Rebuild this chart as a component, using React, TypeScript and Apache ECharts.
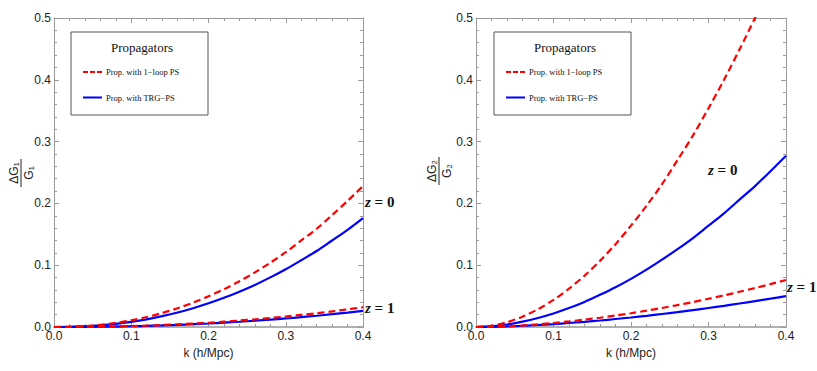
import React, { useEffect, useRef } from "react";
import * as echarts from "echarts";

const K = [0, 0.02, 0.04, 0.06, 0.08, 0.1, 0.12, 0.14, 0.16, 0.18, 0.2, 0.22, 0.24, 0.26, 0.28, 0.3, 0.32, 0.34, 0.36, 0.38, 0.4];

// Left panel: ΔG1/G1
const G1_Z0_LOOP = [0, 0.0003, 0.0014, 0.0035, 0.0066, 0.0108, 0.0161, 0.0226, 0.0304, 0.0394, 0.0496, 0.0611, 0.074, 0.0883, 0.104, 0.121, 0.14, 0.159, 0.181, 0.204, 0.228];
const G1_Z0_TRG = [0, 0.0002, 0.0011, 0.0027, 0.0051, 0.0083, 0.0124, 0.0175, 0.0234, 0.0304, 0.0383, 0.0472, 0.0572, 0.0681, 0.0803, 0.0935, 0.108, 0.123, 0.14, 0.157, 0.176];
const G1_Z1_LOOP = [0, 0.00005, 0.0002, 0.0005, 0.0009, 0.0015, 0.0023, 0.0032, 0.0043, 0.0055, 0.0069, 0.0086, 0.0104, 0.0124, 0.0146, 0.017, 0.0196, 0.0223, 0.0253, 0.0286, 0.032];
const G1_Z1_TRG = [0, 0.00003, 0.00016, 0.0004, 0.00075, 0.0012, 0.0018, 0.0026, 0.0035, 0.0045, 0.0057, 0.007, 0.0085, 0.0101, 0.0119, 0.0138, 0.016, 0.0182, 0.0207, 0.0232, 0.026];

// Right panel: ΔG2/G2
const G2_Z0_LOOP = [0, 0.002, 0.0077, 0.0167, 0.0287, 0.0439, 0.062, 0.083, 0.107, 0.134, 0.164, 0.196, 0.231, 0.27, 0.31, 0.354, 0.4, 0.449, 0.5, 0.553, 0.61];
const G2_Z0_TRG = [0, 0.0012, 0.0041, 0.0086, 0.0146, 0.0219, 0.0306, 0.0405, 0.052, 0.0643, 0.0779, 0.0928, 0.109, 0.126, 0.144, 0.164, 0.184, 0.206, 0.228, 0.252, 0.277];
const G2_Z1_LOOP = [0, 0.0004, 0.0013, 0.0026, 0.0044, 0.0065, 0.009, 0.0119, 0.015, 0.0185, 0.0223, 0.0264, 0.0308, 0.0355, 0.0404, 0.0457, 0.0512, 0.057, 0.063, 0.0694, 0.076];
const G2_Z1_TRG = [0, 0.0003, 0.001, 0.002, 0.0032, 0.0047, 0.0065, 0.0084, 0.0105, 0.0129, 0.0154, 0.0181, 0.021, 0.024, 0.0273, 0.0307, 0.0342, 0.038, 0.0418, 0.0458, 0.05];

const X_MIN = 0, X_MAX = 0.4, X_STEP = 0.1;
const Y_MIN = 0, Y_MAX = 0.5, Y_STEP = 0.1;

const LEGEND_TITLE = "Propagators";
const LEGEND_LOOP = "Prop. with 1\u2212loop PS";
const LEGEND_TRG = "Prop. with TRG\u2212PS";
const X_NAME = "k (h/Mpc)";

const RED = "#ff0000";
const BLUE = "#0000ff";
const AXIS_GRAY = "#9a9a9a";
const SANS = "'Liberation Sans', Arial, sans-serif";
const SERIF = "'Liberation Serif', 'Times New Roman', serif";

function xAxisDef(gridIndex: number, position: "bottom" | "top") {
  const bottom = position === "bottom";
  return {
    type: "value",
    gridIndex,
    position,
    min: X_MIN,
    max: X_MAX,
    interval: X_STEP,
    name: bottom ? X_NAME : "",
    nameLocation: "middle",
    nameGap: 19,
    nameTextStyle: { fontFamily: SANS, fontSize: 12, color: "#222" },
    axisLine: { show: true, onZero: false, lineStyle: { color: bottom ? "#b0b0b0" : AXIS_GRAY, width: bottom ? 2 : 1 } },
    axisTick: { show: true, inside: true, length: 5, lineStyle: { color: AXIS_GRAY } },
    minorTick: { show: true, splitNumber: 5, length: 3, lineStyle: { color: AXIS_GRAY } },
    splitLine: { show: false },
    axisLabel: {
      show: bottom,
      margin: 3,
      fontFamily: SANS,
      fontSize: 12,
      color: "#222",
      formatter: (v: number) => v.toFixed(1),
    },
  };
}

function yAxisDef(gridIndex: number, position: "left" | "right") {
  const left = position === "left";
  return {
    type: "value",
    gridIndex,
    position,
    min: Y_MIN,
    max: Y_MAX,
    interval: Y_STEP,
    axisLine: { show: true, onZero: false, lineStyle: { color: AXIS_GRAY, width: 1 } },
    axisTick: { show: true, inside: true, length: 5, lineStyle: { color: AXIS_GRAY } },
    minorTick: { show: true, splitNumber: 5, length: 3, lineStyle: { color: AXIS_GRAY } },
    splitLine: { show: false },
    axisLabel: {
      show: left,
      margin: 3,
      fontFamily: SANS,
      fontSize: 12,
      color: "#222",
      formatter: (v: number) => v.toFixed(1),
    },
  };
}

function lineSeries(name: string, values: number[], axisIdx: number, dashed: boolean) {
  return {
    type: "line",
    name,
    xAxisIndex: axisIdx,
    yAxisIndex: axisIdx,
    data: K.map((k, i) => [k, values[i]]),
    showSymbol: false,
    smooth: 0.3,
    clip: true,
    z: dashed ? 3 : 2,
    lineStyle: dashed
      ? { color: RED, width: 2.2, type: [7, 4] }
      : { color: BLUE, width: 2.2, type: "solid" },
    itemStyle: { color: dashed ? RED : BLUE },
  };
}

function legendBox(x: number, y: number) {
  return {
    type: "group",
    x,
    y,
    children: [
      { type: "rect", shape: { x: 0, y: 0, width: 137, height: 83 }, style: { fill: "#fff", stroke: "#555", lineWidth: 1 } },
      { type: "text", x: 71, y: 15, style: { text: LEGEND_TITLE, font: `13px ${SERIF}`, fill: "#111", align: "center", verticalAlign: "middle" } },
      { type: "line", shape: { x1: 12, y1: 40, x2: 31, y2: 40 }, style: { stroke: RED, lineWidth: 2, lineDash: [5, 2] } },
      { type: "text", x: 35, y: 40, style: { text: LEGEND_LOOP, font: `8.5px ${SERIF}`, fill: "#111", align: "left", verticalAlign: "middle" } },
      { type: "line", shape: { x1: 12, y1: 65.5, x2: 31, y2: 65.5 }, style: { stroke: BLUE, lineWidth: 2 } },
      { type: "text", x: 35, y: 65.5, style: { text: LEGEND_TRG, font: `8.5px ${SERIF}`, fill: "#111", align: "left", verticalAlign: "middle" } },
    ],
  };
}

function fraction(x: number, y: number, idx: string) {
  return {
    type: "group",
    x,
    y,
    rotation: Math.PI / 2,
    children: [
      { type: "text", x: 0, y: -7, style: { text: "\u0394G" + idx, font: `12px ${SANS}`, fill: "#222", align: "center", verticalAlign: "middle" } },
      { type: "line", shape: { x1: -14, y1: 0, x2: 14, y2: 0 }, style: { stroke: "#222", lineWidth: 1 } },
      { type: "text", x: 0, y: 8, style: { text: "G" + idx, font: `12px ${SANS}`, fill: "#222", align: "center", verticalAlign: "middle" } },
    ],
  };
}

function zLabel(x: number, y: number, z: string) {
  return {
    type: "text",
    x,
    y,
    style: {
      text: `{i|z}{r| = ${z}}`,
      align: "left",
      verticalAlign: "middle",
      rich: {
        i: { fontFamily: SERIF, fontSize: 15, fontWeight: "bold", fontStyle: "italic", fill: "#111" },
        r: { fontFamily: SERIF, fontSize: 15, fontWeight: "bold", fill: "#111" },
      },
    },
  };
}

export default function App() {
  const ref = useRef<HTMLDivElement>(null);
  useEffect(() => {
    if (!ref.current) return;
    const chart = echarts.init(ref.current, undefined, { renderer: "svg" });
    chart.setOption({
      animation: false,
      backgroundColor: "#fff",
      grid: [
        { left: 54, top: 18, width: 309, height: 309 },
        { left: 476, top: 18, width: 310, height: 309 },
      ],
      xAxis: [xAxisDef(0, "bottom"), xAxisDef(1, "bottom"), xAxisDef(0, "top"), xAxisDef(1, "top")],
      yAxis: [yAxisDef(0, "left"), yAxisDef(1, "left"), yAxisDef(0, "right"), yAxisDef(1, "right")],
      series: [
        lineSeries("G1 z=0 TRG", G1_Z0_TRG, 0, false),
        lineSeries("G1 z=1 TRG", G1_Z1_TRG, 0, false),
        lineSeries("G1 z=0 1-loop", G1_Z0_LOOP, 0, true),
        lineSeries("G1 z=1 1-loop", G1_Z1_LOOP, 0, true),
        lineSeries("G2 z=0 TRG", G2_Z0_TRG, 1, false),
        lineSeries("G2 z=1 TRG", G2_Z1_TRG, 1, false),
        lineSeries("G2 z=0 1-loop", G2_Z0_LOOP, 1, true),
        lineSeries("G2 z=1 1-loop", G2_Z1_LOOP, 1, true),
      ],
      graphic: [
        legendBox(71, 32),
        legendBox(494, 32),
        fraction(21, 173, "\u2081"),
        fraction(439, 171, "\u2082"),
        zLabel(365, 202, "0"),
        zLabel(365, 308, "1"),
        zLabel(708, 170, "0"),
        zLabel(787, 287, "1"),
      ],
    });
    return () => chart.dispose();
  }, []);
  return (
    <div
      ref={ref}
      style={{ position: "fixed", left: 0, top: 0, width: 817, height: 371, background: "#fff" }}
    />
  );
}
